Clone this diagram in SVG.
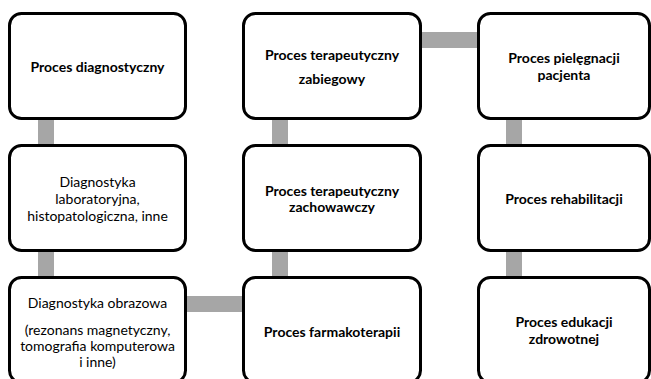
<svg xmlns="http://www.w3.org/2000/svg" width="651" height="379" viewBox="0 0 651 379">
<style>
.box{fill:#fff;stroke:#000;stroke-width:3}
.con{fill:#A6A6A6}
text{font-family:Lato,"Liberation Sans",sans-serif;font-size:14px;fill:#000;text-anchor:middle}
.b{font-weight:bold}
</style>
<rect width="651" height="379" fill="#fff"/>
<g id="connectors">
<rect class="con" x="38" y="115" width="16" height="166"/>
<rect class="con" x="272" y="115" width="16" height="166"/>
<rect class="con" x="506" y="115" width="16" height="166"/>
<rect class="con" x="182" y="296" width="64" height="16"/>
<rect class="con" x="417" y="32" width="64" height="16"/>
</g>
<g id="n1"><rect class="box" x="9.5" y="13.5" width="176" height="105" rx="12"/><text class="b" x="97.5" y="72">Proces diagnostyczny</text></g>
<g id="n2"><rect class="box" x="9.5" y="145.5" width="176" height="105" rx="12"/><text x="97.5" y="187">Diagnostyka</text><text x="97.5" y="204">laboratoryjna,</text><text x="97.5" y="221">histopatologiczna, inne</text></g>
<g id="n3"><rect class="box" x="9.5" y="277.5" width="176" height="105" rx="12"/><text x="97.5" y="308">Diagnostyka obrazowa</text><text x="97.5" y="335">(rezonans magnetyczny,</text><text x="97.5" y="351">tomografia komputerowa</text><text x="97.5" y="367">i inne)</text></g>
<g id="n4"><rect class="box" x="243.5" y="13.5" width="177" height="105" rx="12"/><text class="b" x="332" y="60">Proces terapeutyczny</text><text class="b" x="332" y="84">zabiegowy</text></g>
<g id="n5"><rect class="box" x="243.5" y="145.5" width="177" height="105" rx="12"/><text class="b" x="332" y="196">Proces terapeutyczny</text><text class="b" x="332" y="212">zachowawczy</text></g>
<g id="n6"><rect class="box" x="243.5" y="277.5" width="177" height="105" rx="12"/><text class="b" x="332" y="337">Proces farmakoterapii</text></g>
<g id="n7"><rect class="box" x="478.5" y="13.5" width="171" height="105" rx="12"/><text class="b" x="564" y="63">Proces pielęgnacji</text><text class="b" x="564" y="80">pacjenta</text></g>
<g id="n8"><rect class="box" x="478.5" y="145.5" width="171" height="105" rx="12"/><text class="b" x="564" y="204">Proces rehabilitacji</text></g>
<g id="n9"><rect class="box" x="478.5" y="277.5" width="171" height="105" rx="12"/><text class="b" x="564" y="327">Proces edukacji</text><text class="b" x="564" y="344">zdrowotnej</text></g>
</svg>
